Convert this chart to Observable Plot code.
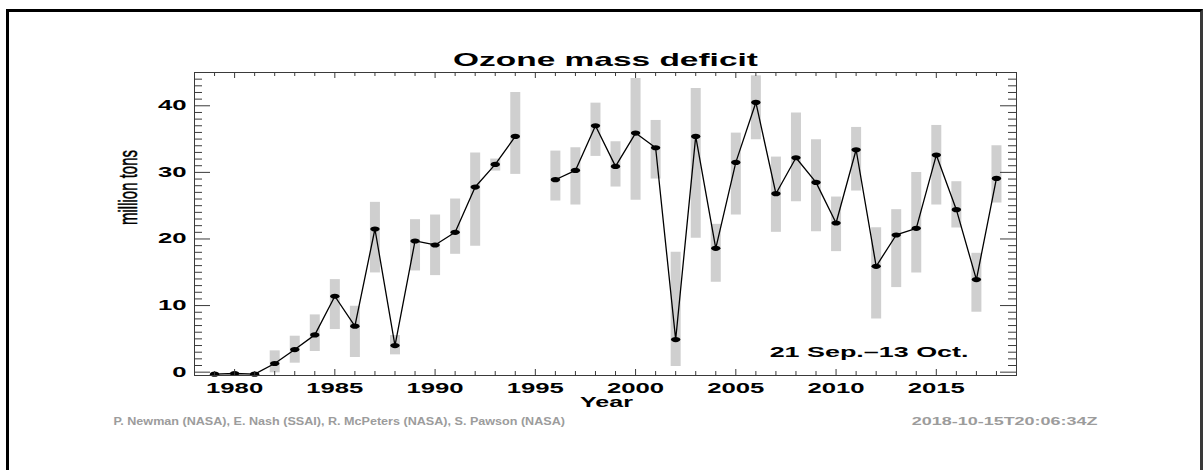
<!DOCTYPE html>
<html><head><meta charset="utf-8">
<script src="https://cdn.jsdelivr.net/npm/d3@7"></script>
<script src="https://cdn.jsdelivr.net/npm/@observablehq/plot@0.6"></script>
<style>
html,body{margin:0;padding:0;background:#fff;overflow:hidden}
#wrap{position:relative;width:1203px;height:470px;overflow:hidden}
#wrap svg{position:absolute;left:0;top:0}
#border{position:absolute;left:6px;top:9px;right:0;bottom:-20px;border:3px solid #000;border-right-color:#3a3a3a;pointer-events:none}
</style></head><body><div id="wrap"><div id="border"></div></div>
<script>
// ---- data ----
const years = [1979,1980,1981,1982,1983,1984,1985,1986,1987,1988,1989,1990,1991,1992,1993,1994,1995,1996,1997,1998,1999,2000,2001,2002,2003,2004,2005,2006,2007,2008,2009,2010,2011,2012,2013,2014,2015,2016,2017,2018];
const mass = [-0.3,-0.2,-0.3,1.3,3.4,5.6,11.4,6.9,21.5,4.0,19.7,19.1,21.0,27.8,31.2,35.4,null,28.9,30.3,37.0,30.9,35.9,33.7,4.9,35.4,18.6,31.5,40.5,26.8,32.2,28.5,22.4,33.4,15.9,20.6,21.6,32.6,24.4,13.9,29.1];
const lo = [null,null,null,-0.1,1.35,3.1,6.4,2.2,14.9,2.6,15.2,14.5,17.7,18.9,30.2,29.7,null,25.7,25.1,32.4,27.8,25.8,29.0,0.85,20.1,13.5,23.6,34.9,21.0,25.6,21.1,18.1,27.2,8.0,12.7,14.9,25.1,21.65,9.0,25.4];
const hi = [null,null,null,3.2,5.4,8.6,13.9,9.9,25.5,5.5,22.9,23.6,26.0,32.9,32.0,42.0,null,33.2,33.7,40.4,34.6,44.1,37.8,18.0,42.6,22.2,35.9,44.5,32.3,38.9,34.9,26.3,36.75,21.7,24.4,30.0,37.05,28.6,17.85,34.0];
const xMajor = [1980,1985,1990,1995,2000,2005,2010,2015];
const xMinor = years.filter(y => !xMajor.includes(y));
const yMajor = [0,10,20,30,40];
const yMinor = [1,2,3,4,5,6,7,8,9,11,12,13,14,15,16,17,18,19,21,22,23,24,25,26,27,28,29,31,32,33,34,35,36,37,38,39,41,42,43,44];
const titleText = "Ozone mass deficit";
const yLabel = "million tons";
const xLabel = "Year";
const periodText = "21 Sep.\u201313 Oct.";
const authorsText = "P. Newman (NASA), E. Nash (SSAI), R. McPeters (NASA), S. Pawson (NASA)";
const stampText = "2018-10-15T20:06:34Z";

const table = years.map((year, i) => ({year, mass: mass[i], lo: lo[i], hi: hi[i]}));

const W = 1203, H = 470, mL = 194, mR = 187, mT = 72, mB = 95;
const fw = W - mL - mR, fh = H - mT - mB;
const tickColor = "#3a3a3a";

const ellipse = {
  draw(ctx, size) {
    const r = Math.sqrt(size / Math.PI), rx = r * 1.8, ry = r, k = 0.5523;
    ctx.moveTo(rx, 0);
    ctx.bezierCurveTo(rx, k * ry, k * rx, ry, 0, ry);
    ctx.bezierCurveTo(-k * rx, ry, -rx, k * ry, -rx, 0);
    ctx.bezierCurveTo(-rx, -k * ry, -k * rx, -ry, 0, -ry);
    ctx.bezierCurveTo(k * rx, -ry, rx, -k * ry, rx, 0);
    ctx.closePath();
  }
};

const chart = Plot.plot({
  width: W, height: H,
  marginLeft: mL, marginRight: mR, marginTop: mT, marginBottom: mB,
  style: {fontFamily: "'Liberation Sans', Arial, sans-serif", fontSize: "14px", fontWeight: "bold", color: "#000", background: "transparent", overflow: "visible"},
  x: {domain: [1978, 2019], ticks: xMajor, tickFormat: d => String(d), tickSize: 0, tickPadding: 8, label: null},
  y: {domain: [-0.5, 45], ticks: yMajor, tickFormat: d => String(d), tickSize: 0, tickPadding: 8, label: null},
  marks: [
    Plot.ruleX(table.filter(d => d.lo != null), {x: "year", y1: "lo", y2: "hi", stroke: "#cfcfcf", strokeWidth: 10}),
    Plot.line(table, {x: "year", y: "mass", stroke: "#000", strokeWidth: 1.3}),
    Plot.dot(table.filter(d => d.mass != null), {x: "year", y: "mass", r: 2.6, symbol: ellipse, fill: "#000", stroke: "none"}),
    Plot.frame({stroke: tickColor}),
    // inward ticks on all four sides
    Plot.tickX(xMajor, {x: d => d, insetTop: fh - 6, stroke: tickColor}),
    Plot.tickX(xMinor, {x: d => d, insetTop: fh - 4, stroke: tickColor}),
    Plot.tickX(xMajor, {x: d => d, insetBottom: fh - 6, stroke: tickColor}),
    Plot.tickX(xMinor, {x: d => d, insetBottom: fh - 4, stroke: tickColor}),
    Plot.tickY(yMajor, {y: d => d, insetRight: fw - 16, stroke: tickColor}),
    Plot.tickY(yMinor, {y: d => d, insetRight: fw - 8, stroke: tickColor}),
    Plot.tickY(yMajor, {y: d => d, insetLeft: fw - 16, stroke: tickColor}),
    Plot.tickY(yMinor, {y: d => d, insetLeft: fw - 8, stroke: tickColor}),
    // texts
    Plot.text([titleText], {text: d => d, frameAnchor: "top", dy: -12, lineAnchor: "middle", fontSize: 18, fontWeight: "bold", fill: "#000"}),
    Plot.text([xLabel], {text: d => d, frameAnchor: "bottom", dx: 1, dy: 27, lineAnchor: "middle", fontSize: 14, fontWeight: "bold", fill: "#000"}),
    Plot.text([yLabel], {text: d => d, frameAnchor: "left", dx: -66, dy: 1, rotate: -90, lineAnchor: "middle", fontSize: 15, fontWeight: "normal", fill: "#000", stroke: "#000", strokeWidth: 0.3}),
    Plot.text([periodText], {text: d => d, frameAnchor: "bottom-right", textAnchor: "end", dx: -48, dy: -23, lineAnchor: "middle", fontSize: 14, fontWeight: "bold", fill: "#000"}),
    Plot.text([authorsText], {text: d => d, frameAnchor: "bottom-left", textAnchor: "start", dx: -81, dy: 46, lineAnchor: "middle", fontSize: 11, fontWeight: "bold", fill: "#9c9c9c"}),
    Plot.text([stampText], {text: d => d, frameAnchor: "bottom-right", textAnchor: "end", dx: 81, dy: 46, lineAnchor: "middle", fontSize: 11, fontWeight: "bold", fill: "#9c9c9c"})
  ]
});
document.getElementById("wrap").appendChild(chart);

// the reference is horizontally stretched: widen text to match its widths
const widths = {};
widths[titleText] = 305; widths[xLabel] = 53; widths[periodText] = 199;
widths[authorsText] = 452; widths[stampText] = 186;
d3.select(chart).selectAll("text").each(function() {
  const t = this.textContent;
  const len = this.getComputedTextLength();
  if (!len) return;
  const tr = this.getAttribute("transform") || "";
  if (t === yLabel) {
    this.setAttribute("transform", tr + ` scale(${75 / len},1.7)`);
    return;
  }
  let target = /^-?\d+$/.test(t) ? 14.3 * t.length : widths[t];
  if (!target) return;
  const x = parseFloat(this.getAttribute("x")) || 0;
  this.setAttribute("transform", tr + ` translate(${x},0) scale(${target / len},1) translate(${-x},0)`);
});
</script>
</body></html>
